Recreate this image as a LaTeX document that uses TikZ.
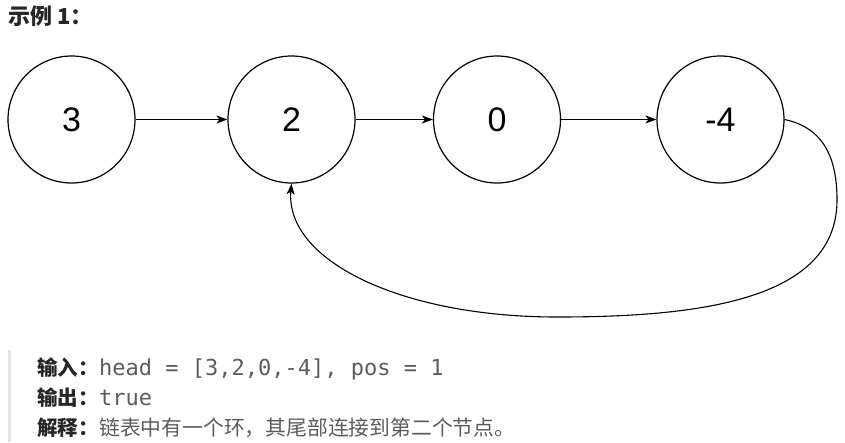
\documentclass[tikz,border=0pt]{standalone}
\usepackage{fontspec}
\usetikzlibrary{arrows.meta}
\newfontfamily\cjk{Noto Sans CJK SC}
\newfontfamily\numfont{Liberation Sans}
\newfontfamily\monof{DejaVu Sans Mono}
\definecolor{labelcol}{HTML}{262626}
\definecolor{valcol}{HTML}{5C5C5C}
\definecolor{barcol}{HTML}{E3E3E3}
\begin{document}
\begin{tikzpicture}[x=1pt,y=-1pt,
  listnode/.style={circle,draw=black,line width=1.2pt,minimum size=127pt,inner sep=0pt,
    font=\numfont\fontsize{34}{40}\selectfont},
  link/.style={line width=1.1pt,-{Stealth[length=11pt,width=8pt,inset=3pt]}},
  lbl/.style={anchor=base west,inner sep=0pt,text=labelcol,font=\cjk\bfseries\fontsize{20.5}{24}\selectfont},
  valm/.style={anchor=base west,inner sep=0pt,text=valcol,font=\monof\fontsize{22}{26}\selectfont},
  valc/.style={anchor=base west,inner sep=0pt,text=valcol,font=\cjk\fontsize{20.8}{24}\selectfont}]
\useasboundingbox (0,0) rectangle (845,442);
\node[anchor=base west,inner sep=0pt,text=labelcol,font=\cjk\bfseries\fontsize{22}{26}\selectfont] (title) at (8,24) {示例 1：};
\node[listnode] (n3) at (71.5,119.5) {3};
\node[listnode] (n2) at (291.5,119.5) {2};
\node[listnode] (n0) at (497,119.5) {0};
\node[listnode] (n4) at (720.5,119.5) {-4};
\draw[link] (n3) -- (n2);
\draw[link] (n2) -- (n0);
\draw[link] (n0) -- (n4);
\coordinate (r1) at (837,200);
\coordinate (bot) at (557,317);
\draw[link] (n4.east) .. controls (825,128) and (837,160) .. (r1)
  .. controls (837,300) and (700,317) .. (bot)
  .. controls (400,317) and (285,260) .. (n2.south);
\fill[barcol] (8,350) rectangle (10.5,442);
\node[lbl] (l1) at (37,375) {输入：};
\node[valm] (v1) at (99,375) {head = [3,2,0,-4], pos = 1};
\node[lbl] (l2) at (37,405) {输出：};
\node[valm] (v2) at (99,405) {true};
\node[lbl] (l3) at (37,435) {解释：};
\node[valc] (v3) at (99,435) {链表中有一个环，其尾部连接到第二个节点。};
\end{tikzpicture}
\end{document}
